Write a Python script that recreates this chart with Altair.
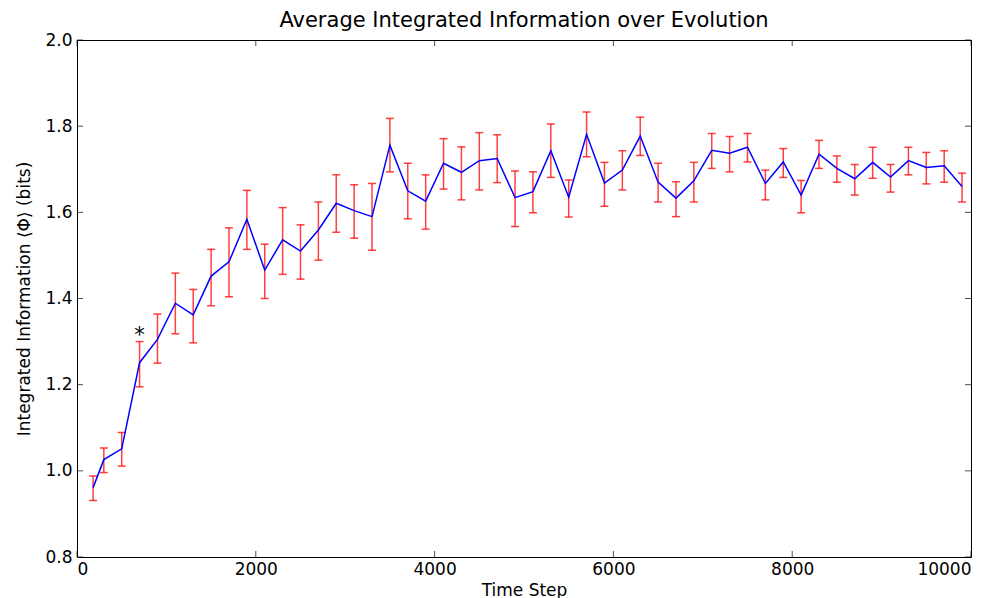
import altair as alt
import pandas as pd

steps = [180, 300, 500, 700, 900, 1100, 1300, 1500, 1700, 1900,
         2100, 2300, 2500, 2700, 2900, 3100, 3300, 3500, 3700, 3900,
         4100, 4300, 4500, 4700, 4900, 5100, 5300, 5500, 5700, 5900,
         6100, 6300, 6500, 6700, 6900, 7100, 7300, 7500, 7700, 7900,
         8100, 8300, 8500, 8700, 8900, 9100, 9300, 9500, 9700, 9900]
phi_mean = [0.961, 1.026, 1.051, 1.251, 1.305, 1.389, 1.362, 1.452, 1.485, 1.584,
            1.466, 1.536, 1.510, 1.559, 1.621, 1.604, 1.590, 1.756, 1.650, 1.626,
            1.714, 1.693, 1.720, 1.725, 1.634, 1.648, 1.743, 1.635, 1.781, 1.668,
            1.698, 1.777, 1.670, 1.633, 1.673, 1.744, 1.737, 1.751, 1.667, 1.717,
            1.640, 1.735, 1.702, 1.678, 1.716, 1.682, 1.720, 1.704, 1.708, 1.660]
phi_upper = [0.988, 1.053, 1.089, 1.300, 1.364, 1.459, 1.421, 1.514, 1.564, 1.651,
             1.526, 1.611, 1.571, 1.624, 1.687, 1.664, 1.667, 1.818, 1.714, 1.687,
             1.771, 1.752, 1.785, 1.780, 1.696, 1.694, 1.805, 1.675, 1.833, 1.716,
             1.743, 1.821, 1.714, 1.671, 1.716, 1.783, 1.776, 1.783, 1.698, 1.748,
             1.674, 1.767, 1.731, 1.711, 1.751, 1.711, 1.751, 1.739, 1.743, 1.691]
phi_lower = [0.931, 0.996, 1.011, 1.195, 1.250, 1.318, 1.297, 1.383, 1.404, 1.514,
             1.400, 1.456, 1.445, 1.489, 1.554, 1.540, 1.512, 1.694, 1.585, 1.561,
             1.654, 1.629, 1.652, 1.669, 1.567, 1.599, 1.681, 1.589, 1.729, 1.614,
             1.652, 1.732, 1.624, 1.590, 1.624, 1.702, 1.694, 1.717, 1.629, 1.681,
             1.599, 1.702, 1.670, 1.640, 1.679, 1.647, 1.687, 1.666, 1.670, 1.624]

x_ticks = [0, 2000, 4000, 6000, 8000, 10000]
y_ticks = [0.8, 1.0, 1.2, 1.4, 1.6, 1.8, 2.0]

annot_x = [700]
annot_y = [1.314]
annot_text = ["*"]

W, H = 894, 517
FONT = "DejaVu Sans"

df = pd.DataFrame({"step": steps, "mean": phi_mean, "lo": phi_lower, "hi": phi_upper})
xt = pd.DataFrame({"v": x_ticks})
yt = pd.DataFrame({"v": y_ticks})
ann = pd.DataFrame({"x": annot_x, "y": annot_y, "t": annot_text})

xscale = alt.Scale(domain=[0, 10000], nice=False, zero=False)
yscale = alt.Scale(domain=[0.8, 2.0], nice=False, zero=False)

xenc = alt.X("step:Q", scale=xscale,
             axis=alt.Axis(values=x_ticks, format="d", title="Time Step",
                           labelPadding=4, titlePadding=5))
yenc_axis = alt.Axis(values=y_ticks, format=".1f",
                     title="Integrated Information ⟨Φ⟩ (bits)",
                     labelPadding=5, titlePadding=11)

base = alt.Chart(df)

err = base.mark_rule(color="#ff0000", strokeWidth=1.5, opacity=0.75).encode(
    x=xenc,
    y=alt.Y("lo:Q", scale=yscale, axis=yenc_axis),
    y2="hi:Q",
)
cap_lo = base.mark_tick(color="#ff0000", size=8, thickness=1.5, opacity=0.75,
                        orient="horizontal").encode(
    x=alt.X("step:Q", scale=xscale), y=alt.Y("lo:Q", scale=yscale))
cap_hi = base.mark_tick(color="#ff0000", size=8, thickness=1.5, opacity=0.75,
                        orient="horizontal").encode(
    x=alt.X("step:Q", scale=xscale), y=alt.Y("hi:Q", scale=yscale))

line = base.mark_line(color="#0000ff", strokeWidth=1.5).encode(
    x=alt.X("step:Q", scale=xscale), y=alt.Y("mean:Q", scale=yscale))

star = alt.Chart(ann).mark_text(font=FONT, fontSize=21, color="black",
                                baseline="middle", align="center").encode(
    x=alt.X("x:Q", scale=xscale), y=alt.Y("y:Q", scale=yscale), text="t:N")

tick_style = dict(color="black", strokeWidth=1, opacity=0.7)
xt_bottom = alt.Chart(xt).mark_rule(**tick_style).encode(
    x=alt.X("v:Q", scale=xscale), y=alt.value(H - 6), y2=alt.value(H))
xt_top = alt.Chart(xt).mark_rule(**tick_style).encode(
    x=alt.X("v:Q", scale=xscale), y=alt.value(0), y2=alt.value(6))
yt_left = alt.Chart(yt).mark_rule(**tick_style).encode(
    y=alt.Y("v:Q", scale=yscale), x=alt.value(0), x2=alt.value(6))
yt_right = alt.Chart(yt).mark_rule(**tick_style).encode(
    y=alt.Y("v:Q", scale=yscale), x=alt.value(W - 6), x2=alt.value(W))

chart = alt.layer(err, cap_lo, cap_hi, line, star,
                  xt_bottom, xt_top, yt_left, yt_right).properties(
    width=W, height=H,
    title=alt.TitleParams("Average Integrated Information over Evolution",
                          font=FONT, fontSize=21, fontWeight="normal",
                          color="black", offset=0),
    autosize=alt.AutoSizeParams(type="none"),
    padding={"left": 69, "top": 32, "right": 20, "bottom": 41},
).configure_view(stroke="black", strokeWidth=1).configure_axis(
    ticks=False, domain=False, grid=False,
    labelFont=FONT, labelFontSize=17, labelColor="black",
    titleFont=FONT, titleFontSize=17, titleFontWeight="normal", titleColor="black",
)

chart.save("out.html", embed_options={"renderer": "svg", "actions": False})
